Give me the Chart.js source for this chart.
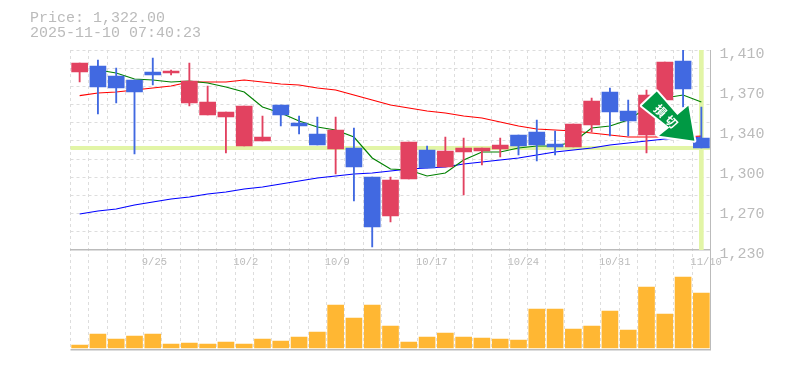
<!DOCTYPE html>
<html>
<head>
<meta charset="utf-8">
<style>html,body{margin:0;padding:0;background:#fff}canvas{display:block}</style>
<script src="https://cdn.jsdelivr.net/npm/chart.js@4/dist/chart.umd.js"></script>
</head>
<body>
<canvas id="c" width="785" height="370"></canvas>
<script>
const categories = ['','','','','9/25','','','','','10/2','','','','','10/9','','','','','10/17','','','','','10/24','','','','','10/31','','','','','11/10'];
const open  = [1390.2,1395.6,1386.6,1383,1390.2,1389.3,1362.3,1351.5,1349.7,1323.6,1328.1,1360.5,1344.3,1334.4,1320.9,1321.8,1295.7,1260.6,1293.9,1320,1304.7,1318.2,1319.1,1320.9,1333.5,1336.2,1325.4,1322.7,1342.5,1372.2,1355.1,1333.5,1365,1400.1,1330.8];
const close = [1398.3,1376.7,1375.8,1372.2,1387.5,1391.1,1382.1,1363.2,1354.2,1359.6,1331.7,1351.5,1341.6,1324.5,1338,1304.7,1250.7,1293,1327.2,1303.8,1319.1,1321.8,1321.8,1324.5,1323.6,1324.5,1322.7,1343.4,1364.1,1354.2,1346.1,1369.5,1399.2,1374.9,1321.8];
const high  = [1398.3,1401,1393.8,1383,1402.8,1392,1398.3,1377.6,1354.2,1359.6,1350.6,1360.5,1350.6,1349.7,1349.7,1339.8,1295.7,1295.7,1327.2,1323.6,1331.7,1330.8,1321.8,1330.8,1333.5,1347,1337.1,1343.4,1366.8,1375.8,1365,1374,1399.2,1410,1358.7];
const low   = [1381.2,1352.4,1362.3,1316.4,1378.5,1387.5,1359.6,1351.5,1317.3,1323.6,1328.1,1341.6,1334.4,1324.5,1298.4,1274.1,1232.7,1255.2,1293.9,1303.8,1304.7,1279.5,1306.5,1313.7,1315.5,1310.1,1315.5,1322.7,1336.2,1332.6,1332.6,1317.3,1365,1358.7,1321.8];
const maShort = [null,1392,1389.3,1383.9,1383,1381.2,1382.1,1380.3,1376.7,1372.2,1358.7,1353.3,1346.1,1340.7,1338,1331.7,1312.8,1302.9,1302,1296.6,1299.3,1311,1318.2,1318.2,1321.8,1323.6,1323.6,1327.2,1339.8,1341.6,1347,1357.8,1366.8,1369.5,1363.2];
const maMid = [1368.9,1371.3,1372.2,1374,1375.8,1377.6,1381.2,1381.2,1381.2,1383,1381.2,1379.4,1378.5,1375.8,1374,1369.5,1365,1360.5,1357.8,1355.1,1353.3,1350.6,1348.8,1345.2,1341.6,1338.9,1338,1337.1,1335.3,1333.5,1331.7,1331.7,1331.7,1331.7,1332.6];
const maLong = [1262.4,1265.1,1266.9,1270.5,1273.2,1275.9,1277.7,1280.4,1282.2,1284.9,1286.7,1289.4,1292.1,1294.8,1296.6,1298.4,1299.3,1301.1,1302.9,1303.8,1304.7,1307.4,1309.2,1311,1312.8,1315.5,1318.2,1320,1321.8,1324.5,1326.3,1328.1,1329.9,1330.8,1331.7];
const volume = [3,14,9,12,14,4,5,4,6,4,9,7,11,16,43,30,43,22,6,11,15,11,10,9,8,39,39,19,22,37,18,61,34,71,55];
const priceTickValues = [1410,1374,1338,1302,1266,1230];
const priceTickLabels = ['1,410','1,370','1,340','1,300','1,270','1,230'];
const gridValues = [1410,1393.6,1377.3,1360.9,1344.5,1328.2,1311.8,1295.5,1279.1,1262.7,1246.4];
const priceMin = 1230, priceMax = 1410;
const lastPrice = 1322;
const titleLines = ['Price: 1,322.00','2025-11-10 07:40:23'];
const badgeText = ['損','切'];

const RED='#E24260', BLUE='#4169E1', ORANGE='#FFB733', LIME='#E2F5A6', GRID='#DDDDDD', AXIS='#BBBBBB', TXT='#BBBBBB';
const MONO='"Liberation Mono", monospace';
const candleColor = open.map((o,i)=> close[i]>=o ? RED : BLUE);
const lastIdx = categories.length-1;

const decor = {
  id:'decor',
  afterDatasetsDraw(chart){
    const c=chart.ctx;
    const tipX=chart.scales.x.getPixelForValue(lastIdx)-7;
    const tipY=chart.scales.price.getPixelForValue(lastPrice)-7;
    const shape=[[-52.6,-35],[-37.6,-49.3],[-17,-25.7],[-6,-35],[0,0],[-35.3,-5],[-25,-13.3]];
    c.save();
    c.beginPath();
    shape.forEach((p,i)=>{ i?c.lineTo(tipX+p[0],tipY+p[1]):c.moveTo(tipX+p[0],tipY+p[1]); });
    c.closePath();
    c.lineJoin='round'; c.lineWidth=4; c.strokeStyle='#fff'; c.stroke();
    c.fillStyle='#009944'; c.fill();
    c.fillStyle='#fff'; c.font='bold 12px "Noto Sans CJK JP"'; c.textAlign='center'; c.textBaseline='middle';
    [[-34,-30],[-23,-19]].forEach((p,i)=>{
      c.save(); c.translate(tipX+p[0],tipY+p[1]); c.rotate(Math.PI/4); c.fillText(badgeText[i],0,0); c.restore();
    });
    c.restore();
  },
  afterDraw(chart){
    const c=chart.ctx;
    c.save();
    c.fillStyle=TXT; c.font='15px '+MONO; c.textAlign='left'; c.textBaseline='middle';
    titleLines.forEach((t,i)=>c.fillText(t,30,18+i*15));
    c.restore();
  }
};

new Chart(document.getElementById('c'),{
  data:{
    labels:categories,
    datasets:[
      {type:'bar',label:'body',yAxisID:'price',order:1,data:open.map((o,i)=>[o,close[i]]),backgroundColor:candleColor,barThickness:16,grouped:false},
      {type:'bar',label:'wick',yAxisID:'price',order:2,data:low.map((l,i)=>[l,high[i]]),backgroundColor:candleColor,barThickness:1.2,grouped:false},
      {type:'line',label:'MA short',yAxisID:'price',order:3,data:maShort,borderColor:'#008000',borderWidth:1.2,pointRadius:0,tension:0,spanGaps:false},
      {type:'line',label:'MA mid',yAxisID:'price',order:3,data:maMid,borderColor:'#FF0000',borderWidth:1.2,pointRadius:0,tension:0},
      {type:'line',label:'MA long',yAxisID:'price',order:3,data:maLong,borderColor:'#0000FF',borderWidth:1.2,pointRadius:0,tension:0},
      {type:'bar',label:'last',yAxisID:'price',order:4,data:categories.map((_,i)=>i===lastIdx?[priceMin,priceMax]:null),backgroundColor:LIME,barThickness:4,grouped:false},
      {type:'bar',label:'volume',yAxisID:'vol',order:1,data:volume,backgroundColor:ORANGE,barThickness:16,grouped:false}
    ]
  },
  options:{
    responsive:false,animation:false,
    layout:{padding:{left:70.5,top:50,right:0,bottom:20}},
    plugins:{legend:{display:false},title:{display:false},tooltip:{enabled:false}},
    scales:{
      x:{
        type:'category',
        position:{price:priceMin},
        offset:true,
        grid:{offset:true,color:GRID,drawTicks:false,lineWidth:1},
        border:{display:true,color:AXIS,width:1.5,dash:ctx=>ctx.type==='tick'?[3,3]:[]},
        ticks:{autoSkip:false,maxRotation:0,minRotation:0,align:'start',labelOffset:-11,padding:6,color:TXT,font:{family:MONO,size:10.5}}
      },
      price:{
        type:'linear',position:'right',stack:'panels',stackWeight:2,min:priceMin,max:priceMax,
        afterFit(s){s.width=74.5;},
        afterBuildTicks(s){
          const all=[...new Set([...gridValues,...priceTickValues])];
          s.ticks=[lastPrice,...all].map(v=>({value:v}));
        },
        grid:{
          drawTicks:false,
          color:ctx=>{const v=ctx.tick&&ctx.tick.value; if(v===lastPrice)return LIME; return gridValues.includes(v)?GRID:'rgba(0,0,0,0)';},
          lineWidth:ctx=>(ctx.tick&&ctx.tick.value===lastPrice)?4:1
        },
        border:{display:true,color:AXIS,width:1,dash:ctx=>(ctx.type==='tick'&&ctx.tick.value!==lastPrice)?[3,3]:[]},
        ticks:{
          autoSkip:false,padding:9,labelOffset:4,color:TXT,font:{family:MONO,size:15},
          callback(v){const i=priceTickValues.indexOf(v);return i<0?'':priceTickLabels[i];}
        }
      },
      vol:{
        type:'linear',position:'right',stack:'panels',stackWeight:1,min:-2,max:98,
        afterFit(s){s.width=74.5;},
        afterBuildTicks(s){s.ticks=[{value:-2}];},
        grid:{drawTicks:false,color:AXIS,lineWidth:1.5},
        border:{display:true,color:AXIS,width:1},
        ticks:{display:false}
      }
    }
  },
  plugins:[decor]
});
</script>
</body>
</html>
